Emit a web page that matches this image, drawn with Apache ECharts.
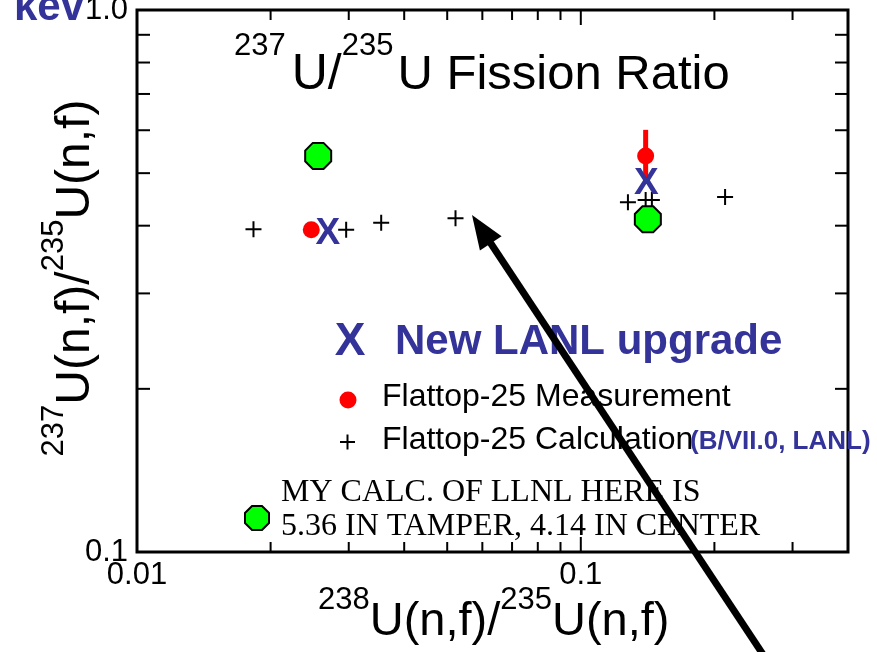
<!DOCTYPE html>
<html><head><meta charset="utf-8">
<script src="https://cdn.jsdelivr.net/npm/echarts@6/dist/echarts.min.js"></script>
<style>html,body{margin:0;padding:0;background:#fff;overflow:hidden}#c{width:877px;height:652px}</style>
</head><body><div id="c"></div>
<script>
// ---- data ----
const calcX = [0.0183, 0.0296, 0.0355, 0.0522, 0.1277, 0.1400, 0.1446, 0.2114];
const calcY = [0.394, 0.393, 0.405, 0.413, 0.442, 0.446, 0.446, 0.452];
const measX = [0.0247, 0.1400];
const measY = [0.393, 0.538];
const measErrLo = [null, 0.478];
const measErrHi = [null, 0.601];
const lanlX = [0.0269, 0.1405];
const lanlY = [0.387, 0.478];
const llnlX = [0.0256, 0.1416];
const llnlY = [0.538, 0.411];
const xTickValues = [0.01, 0.1];
const xTickLabels = ['0.01', '0.1'];
const yTickValues = [0.1, 1.0];
const yTickLabels = ['0.1', '1.0'];
const xMajorTicks = [0.1];
const xMinorTicks = [0.02, 0.03, 0.04, 0.05, 0.06, 0.07, 0.08, 0.09, 0.2, 0.3];
const yMinorTicks = [0.2, 0.3, 0.4, 0.5, 0.6, 0.7, 0.8, 0.9];

const SANS = '"Liberation Sans", Arial, Helvetica, sans-serif';
const SERIF = '"Liberation Serif", "Times New Roman", serif';
const BLUE = '#333399';

const chart = echarts.init(document.getElementById('c'), null, {renderer: 'canvas'});

const mctx = document.createElement('canvas').getContext('2d');
function fontOf(f) { return (f.weight || 'normal') + ' ' + f.size + 'px ' + (f.family || SANS); }
function seq(frags, x0, midY) {
  const out = [];
  let x = x0;
  frags.forEach(f => {
    const font = fontOf(f);
    mctx.font = font;
    x += (f.gap || 0);
    const w = mctx.measureText(f.t).width;
    out.push({type: 'text', x: x, y: midY + (f.dy || 0), z: 100,
      style: {text: f.t, font: font, fill: f.color || '#000', align: 'left', verticalAlign: 'middle'}});
    x += w;
  });
  return {elems: out, width: x - x0};
}
function seqWidth(frags) {
  let w = 0;
  frags.forEach(f => { mctx.font = fontOf(f); w += mctx.measureText(f.t).width + (f.gap || 0); });
  return w;
}

function labelFor(values, labels) {
  return function (v) {
    for (let i = 0; i < values.length; i++) {
      if (Math.abs(Math.log10(v) - Math.log10(values[i])) < 1e-6) return labels[i];
    }
    return '';
  };
}

const octPath = 'path://M30.9,3.8L69.1,3.8L96.2,30.9L96.2,69.1L69.1,96.2L30.9,96.2L3.8,69.1L3.8,30.9Z';
const plusPath = 'path://M7,0H9V7H16V9H9V16H7V9H0V7H7Z';

function octPoints(cx, cy, r) {
  const pts = [];
  for (let k = 0; k < 8; k++) {
    const a = Math.PI / 8 + k * Math.PI / 4;
    pts.push([cx + r * Math.cos(a), cy + r * Math.sin(a)]);
  }
  return pts;
}

// titles
const titleFr = [
  {t: '237', size: 31, dy: -29}, {t: 'U/', size: 50, gap: 6}, {t: '235', size: 31, dy: -29}, {t: 'U Fission Ratio', size: 49, gap: 4}
];
const xTitleFr = [
  {t: '238', size: 31, dy: -22}, {t: 'U(n,f)/', size: 47}, {t: '235', size: 31, dy: -22}, {t: 'U(n,f)', size: 47}
];
const yTitleFr = [
  {t: '237', size: 31, dy: -22}, {t: 'U(n,f)/', size: 48}, {t: '235', size: 31, dy: -22}, {t: 'U(n,f)', size: 48}
];
const title = seq(titleFr, 234, 75);
const xTitle = seq(xTitleFr, 318, 622);
const yW = seqWidth(yTitleFr);
const yTitle = seq(yTitleFr, -yW / 2, 0);

// arrow geometry (annotation)
const tip = [472, 215], tail = [768, 662];
const dx = tip[0] - tail[0], dy = tip[1] - tail[1];
const L = Math.hypot(dx, dy);
const ux = dx / L, uy = dy / L;
const headLen = 34, headHalf = 13;
const base = [tip[0] - ux * headLen, tip[1] - uy * headLen];
const px = -uy, py = ux;

const graphics = [].concat(
  title.elems,
  xTitle.elems,
  [{type: 'group', x: 76, y: 278, rotation: Math.PI / 2, children: yTitle.elems}],
  [
    {type: 'text', x: 14, y: 8, z: 100, style: {text: 'kev', font: 'bold 42px ' + SANS, fill: BLUE, align: 'left', verticalAlign: 'middle'}},
    // legend
    {type: 'text', x: 350, y: 342, z: 100, style: {text: 'X', font: 'bold 46px ' + SANS, fill: BLUE, align: 'center', verticalAlign: 'middle'}},
    {type: 'text', x: 395, y: 342, z: 100, style: {text: 'New LANL upgrade', font: 'bold 42px ' + SANS, fill: BLUE, align: 'left', verticalAlign: 'middle'}},
    {type: 'circle', z: 100, shape: {cx: 348, cy: 400, r: 8.5}, style: {fill: '#ff0000'}},
    {type: 'text', x: 382, y: 397, z: 100, style: {text: 'Flattop-25 Measurement', font: '32px ' + SANS, fill: '#000', align: 'left', verticalAlign: 'middle'}},
    {type: 'rect', z: 100, shape: {x: 340, y: 441, width: 15, height: 2}, style: {fill: '#000'}},
    {type: 'rect', z: 100, shape: {x: 346.5, y: 434.5, width: 2, height: 15}, style: {fill: '#000'}},
    {type: 'text', x: 382, y: 440, z: 100, style: {text: 'Flattop-25 Calculation', font: '32px ' + SANS, fill: '#000', align: 'left', verticalAlign: 'middle'}},
    {type: 'text', x: 690, y: 442, z: 100, style: {text: '(B/VII.0, LANL)', font: 'bold 26px ' + SANS, fill: BLUE, align: 'left', verticalAlign: 'middle'}},
    {type: 'polygon', z: 100, shape: {points: octPoints(257, 518, 13)}, style: {fill: '#00ff00', stroke: '#000', lineWidth: 2}},
    {type: 'text', x: 281, y: 493, z: 100, style: {text: 'MY CALC. OF LLNL HERE IS', font: '32px ' + SERIF, fill: '#000', align: 'left', verticalAlign: 'middle'}},
    {type: 'text', x: 281, y: 527, z: 100, style: {text: '5.36 IN TAMPER, 4.14 IN CENTER', font: '32px ' + SERIF, fill: '#000', align: 'left', verticalAlign: 'middle'}},
    // arrow
    {type: 'line', z: 110, shape: {x1: tail[0], y1: tail[1], x2: base[0] + ux * 4, y2: base[1] + uy * 4}, style: {stroke: '#000', lineWidth: 7}},
    {type: 'polygon', z: 110, shape: {points: [tip, [base[0] + px * headHalf, base[1] + py * headHalf], [base[0] - px * headHalf, base[1] - py * headHalf]]}, style: {fill: '#000'}}
  ]
);

function tickSeries(values, dir, len) {
  return {
    type: 'custom', silent: true, z: 1, clip: false,
    data: values.map(v => [v]),
    renderItem: function (params, api) {
      const v = api.value(0);
      let a, b, c, d;
      if (dir === 'x') {
        a = api.coord([v, 0.1]); b = api.coord([v, 1.0]);
        return {type: 'group', children: [
          {type: 'line', shape: {x1: a[0], y1: a[1], x2: a[0], y2: a[1] - len}, style: {stroke: '#000', lineWidth: 2}},
          {type: 'line', shape: {x1: b[0], y1: b[1], x2: b[0], y2: b[1] + len}, style: {stroke: '#000', lineWidth: 2}}
        ]};
      } else {
        c = api.coord([0.01, v]); d = api.coord([0.4, v]);
        return {type: 'group', children: [
          {type: 'line', shape: {x1: c[0], y1: c[1], x2: c[0] + len, y2: c[1]}, style: {stroke: '#000', lineWidth: 2}},
          {type: 'line', shape: {x1: d[0], y1: d[1], x2: d[0] - len, y2: d[1]}, style: {stroke: '#000', lineWidth: 2}}
        ]};
      }
    }
  };
}

const option = {
  backgroundColor: '#fff',
  animation: false,
  grid: {left: 137, right: 29, top: 10, bottom: 100, show: true, borderColor: '#000', borderWidth: 3, backgroundColor: 'transparent', outerBoundsMode: 'none', containLabel: false},
  xAxis: {
    type: 'log', logBase: 10, min: 0.01, max: 0.4,
    axisLine: {show: false}, axisTick: {show: false}, splitLine: {show: false}, minorTick: {show: false},
    axisLabel: {formatter: labelFor(xTickValues, xTickLabels), fontSize: 31, color: '#000', fontFamily: SANS, margin: 8, showMinLabel: true, showMaxLabel: true}
  },
  yAxis: {
    type: 'log', logBase: 10, min: 0.1, max: 1.0,
    axisLine: {show: false}, axisTick: {show: false}, splitLine: {show: false}, minorTick: {show: false},
    axisLabel: {formatter: labelFor(yTickValues, yTickLabels), fontSize: 31, color: '#000', fontFamily: SANS, margin: 9, showMinLabel: true, showMaxLabel: true}
  },
  graphic: graphics,
  series: [
    tickSeries(xMinorTicks, 'x', 10),
    tickSeries(xMajorTicks, 'x', 15),
    tickSeries(yMinorTicks, 'y', 13),
    {
      name: 'Flattop-25 Calculation', type: 'scatter', z: 2,
      symbol: plusPath, symbolSize: 16,
      itemStyle: {color: '#000', opacity: 1},
      data: calcX.map((x, i) => [x, calcY[i]])
    },
    {
      name: 'LLNL', type: 'scatter', z: 3,
      symbol: octPath, symbolSize: 26,
      itemStyle: {color: '#00ff00', borderColor: '#000', borderWidth: 2, opacity: 1},
      data: llnlX.map((x, i) => [x, llnlY[i]])
    },
    {
      name: 'error', type: 'custom', z: 4,
      data: measX.map((x, i) => [x, measErrLo[i], measErrHi[i]]).filter(d => d[1] != null),
      renderItem: function (params, api) {
        const lo = api.coord([api.value(0), api.value(1)]);
        const hi = api.coord([api.value(0), api.value(2)]);
        return {type: 'line', shape: {x1: lo[0], y1: lo[1], x2: hi[0], y2: hi[1]}, style: {stroke: '#ff0000', lineWidth: 5}};
      }
    },
    {
      name: 'Flattop-25 Measurement', type: 'scatter', z: 5,
      symbol: 'circle', symbolSize: 17,
      itemStyle: {color: '#ff0000', opacity: 1},
      data: measX.map((x, i) => [x, measY[i]])
    },
    {
      name: 'New LANL upgrade', type: 'custom', z: 6,
      data: lanlX.map((x, i) => [x, lanlY[i]]),
      renderItem: function (params, api) {
        const p = api.coord([api.value(0), api.value(1)]);
        return {type: 'text', x: p[0], y: p[1], style: {text: 'X', font: 'bold 37px ' + SANS, fill: BLUE, align: 'center', verticalAlign: 'middle'}};
      }
    }
  ]
};
chart.setOption(option);
</script>
</body></html>
